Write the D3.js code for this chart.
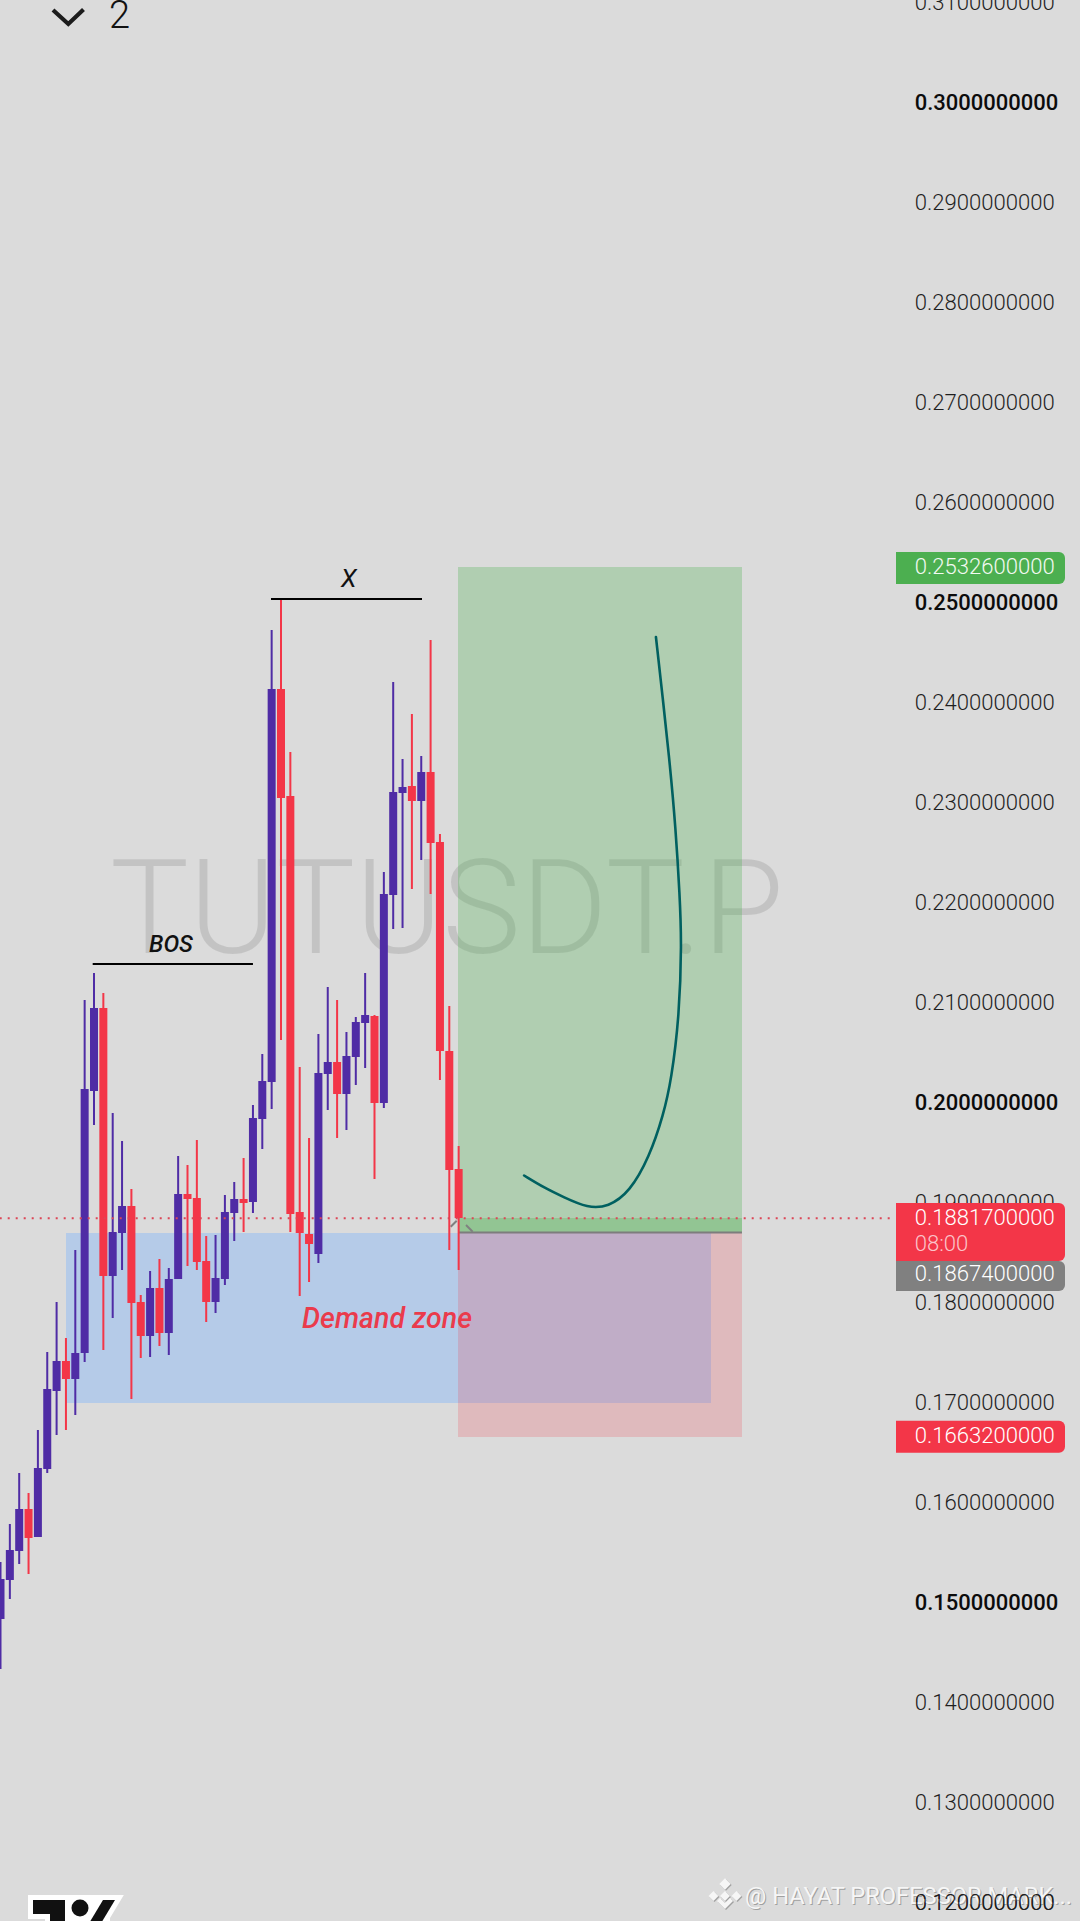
<!DOCTYPE html>
<html><head><meta charset="utf-8">
<script src="https://cdn.jsdelivr.net/npm/d3@7/dist/d3.min.js"></script>
<style>html,body{margin:0;padding:0;background:#dbdbdb;overflow:hidden}svg{display:block}text{font-family:Roboto,sans-serif}</style>
</head><body><div id="c"></div>
<script>
const opens=[.1481,.1520,.1549,.1591,.1563,.1631,.1709,.1739,.1721,.1747,.2009,.2092,.1824,.1867,.1894,.1798,.1764,.1812,.1767,.1821,.1906,.1902,.1839,.1798,.1821,.1887,.1901,.1898,.1981,.2018,.2411,.2304,.1888,.1866,.1846,.2026,.2038,.2006,.2043,.2077,.2084,.1997,.2205,.2307,.2314,.2299,.2328,.2258,.2049,.1931];
const closes=[.1521,.1550,.1591,.1562,.1632,.1711,.1739,.1721,.1747,.2011,.2092,.1824,.1868,.1894,.1797,.1764,.1812,.1767,.1821,.1906,.1901,.1838,.1798,.1822,.1888,.1901,.1897,.1982,.2019,.2411,.2302,.1886,.1867,.1856,.2027,.2038,.2006,.2044,.2078,.2085,.1997,.2206,.2308,.2313,.2299,.2328,.2257,.2049,.1930,.1882];
const highs=[.1538,.1576,.1627,.1607,.1670,.1748,.1798,.1762,.1850,.2100,.2127,.2107,.1987,.1959,.1911,.1805,.1829,.1841,.1832,.1944,.1935,.1960,.1864,.1865,.1905,.1918,.1942,.1995,.2046,.2470,.2501,.2348,.2033,.1962,.2066,.2113,.2100,.2068,.2083,.2127,.2085,.2228,.2418,.2341,.2386,.2344,.2460,.2266,.2094,.1954];
const lows=[.1431,.1501,.1536,.1526,.1563,.1627,.1665,.1670,.1685,.1738,.1975,.1750,.1782,.1830,.1701,.1742,.1743,.1754,.1745,.1821,.1834,.1830,.1778,.1787,.1815,.1859,.1868,.1887,.1951,.1991,.2060,.1868,.1804,.1818,.1837,.1990,.1962,.1970,.2015,.2032,.1921,.1992,.2171,.2172,.2211,.2240,.2206,.2020,.1850,.1830];
const tickValues=[.31,.30,.29,.28,.27,.26,.25,.24,.23,.22,.21,.20,.19,.18,.17,.16,.15,.14,.13,.12];
const boldTicks=[.30,.25,.20,.15];
const targetPrice=.25326, lastPrice=.18817, entryPrice=.18674, stopPrice=.16632;
const countdown="08:00";
const demandTop=.1867, demandBottom=.16973, demandFrom=7, demandTo=76.04;
const posFrom=48.93, posTo=79.3;
const bosLevel=.2136, bosFrom=9.86, bosTo=27;
const xLevel=.2501, xFrom=28.93, xTo=45.08;
const curveBars=[70.1,70.9,71.6,72.2,72.65,72.85,72.6,71.75,70.9,69.4,67.3,65,62.8,60.2,58.2,56];
const curvePrices=[.2463,.2396,.2335,.2273,.2204,.2157,.2084,.2020,.1985,.1943,.1908,.1893,.1892,.1903,.1912,.19245];

const W=1080,H=1921;
const UP="#4f2ca5",DOWN="#f33648";
const x=d3.scaleLinear().domain([0,100]).range([0.5,935.5]);
const y=d3.scaleLinear().domain([.30,.12]).range([100,1900]);
const svg=d3.select("#c").append("svg").attr("width",W).attr("height",H);
svg.append("rect").attr("width",W).attr("height",H).attr("fill","#dbdbdb");

// symbol watermark
svg.append("text").attr("x",110).attr("y",953).attr("font-size",132).attr("font-weight",300)
  .attr("fill","rgba(0,0,0,.105)").attr("textLength",674).attr("lengthAdjust","spacingAndGlyphs").text("TUTUSDT.P");

// zones
const rr=(x0,x1,p0,p1,fill,op)=>svg.append("rect").attr("x",x(x0)).attr("width",x(x1)-x(x0))
  .attr("y",y(p0)).attr("height",y(p1)-y(p0)).attr("fill",fill).attr("fill-opacity",op).attr("shape-rendering","crispEdges");
rr(demandFrom,demandTo,demandTop,demandBottom,"#b5cbe8",1);
rr(posFrom,posTo,targetPrice,entryPrice,"rgb(76,175,80)",.3);
rr(posFrom,posTo,entryPrice,stopPrice,"rgb(242,54,69)",.2);
rr(posFrom,posTo,lastPrice,entryPrice,"rgb(76,175,80)",.3);
svg.append("line").attr("x1",x(posFrom)).attr("x2",x(posTo)).attr("y1",y(entryPrice)).attr("y2",y(entryPrice))
  .attr("stroke","#7d7d7d").attr("stroke-width",2);
// small position arrows
[[450.7,1226.7,456.7,1220.7],[466,1225,472.7,1231.7]].forEach(a=>svg.append("line").attr("x1",a[0]).attr("y1",a[1]).attr("x2",a[2]).attr("y2",a[3]).attr("stroke","#808080").attr("stroke-width",2));

// candles
const data=opens.map((o,i)=>({i,o,c:closes[i],h:highs[i],l:lows[i]}));
const g=svg.append("g");
g.selectAll(".w").data(data).join("rect").attr("x",d=>x(d.i)-1).attr("width",2)
  .attr("y",d=>y(d.h)).attr("height",d=>y(d.l)-y(d.h)).attr("fill",d=>d.c>=d.o?UP:DOWN);
g.selectAll(".b").data(data).join("rect").attr("x",d=>x(d.i)-4).attr("width",8)
  .attr("y",d=>y(Math.max(d.o,d.c))).attr("height",d=>y(Math.min(d.o,d.c))-y(Math.max(d.o,d.c))).attr("fill",d=>d.c>=d.o?UP:DOWN);

// last price line
svg.append("line").attr("x1",-0.3).attr("x2",890).attr("y1",y(lastPrice)).attr("y2",y(lastPrice))
  .attr("stroke","#dc4656").attr("stroke-width",2).attr("stroke-dasharray","2 6");

// annotations
const hl=(a,b,p)=>svg.append("line").attr("x1",x(a)).attr("x2",x(b)).attr("y1",y(p)).attr("y2",y(p)).attr("stroke","#000").attr("stroke-width",2);
hl(bosFrom,bosTo,bosLevel); hl(xFrom,xTo,xLevel);
svg.append("text").attr("x",149).attr("y",952).attr("font-size",23.5).attr("font-style","italic").attr("font-weight",500).attr("fill","#111").text("BOS");
svg.append("text").attr("x",341).attr("y",587).attr("font-size",25.5).attr("font-style","italic").attr("font-weight",400).attr("fill","#111").text("X");
svg.append("text").attr("x",302).attr("y",1328).attr("font-size",28.5).attr("font-style","italic").attr("font-weight",500).attr("fill","#ea3b4c").attr("textLength",170).text("Demand zone");
svg.append("path").attr("d",d3.line().x(d=>x(d)).y((d,i)=>y(curvePrices[i])).curve(d3.curveBasis)(curveBars))
  .attr("fill","none").attr("stroke","#006060").attr("stroke-width",2.6).attr("stroke-linecap","round");

// axis labels
const fmt=v=>v.toFixed(10);
const isBold=v=>boldTicks.some(b=>Math.abs(b-v)<1e-9);
svg.selectAll(".t").data(tickValues).join("text").attr("x",914.7).attr("y",d=>y(d)+10)
  .attr("font-size",d=>isBold(d)?22:22.1)
  .attr("font-weight",d=>isBold(d)?500:300).attr("fill",d=>isBold(d)?"#0c0c0c":"#1f1f1f").text(fmt);

// price tags
const tag=(y0,y1,fill)=>svg.append("path").attr("d",`M896,${y0}H1059a6,6 0 0 1 6,6V${y1-6}a6,6 0 0 1 -6,6H896Z`).attr("fill",fill);
const tagText=(t,b,fill)=>svg.append("text").attr("x",914.7).attr("y",b).attr("font-size",22.1).attr("font-weight",300).attr("fill",fill).text(t);
tag(y(targetPrice)-15.5,y(targetPrice)+16.5,"#4caf50"); tagText(fmt(targetPrice),574,"#f2f9f2");
tag(1203,1261,"#f33648"); tagText(fmt(lastPrice),1225,"#fff"); tagText(countdown,1251,"#fbc4ca");
tag(1261,1291,"#808080"); tagText(fmt(entryPrice),1281,"#fff");
tag(y(stopPrice)-16,y(stopPrice)+16,"#f33648"); tagText(fmt(stopPrice),1443.3,"#fff");

// top chevron + pane count
svg.append("path").attr("d","M53,10L68.3,24L83.5,9.5").attr("fill","none").attr("stroke","#1c1c1c").attr("stroke-width",4.2);
svg.append("text").attr("x",109).attr("y",28).attr("font-size",38).attr("font-weight",300).attr("fill","#111").text("2");

// logo
const logo=svg.append("g");
const logoPaths=["M33,1900H65V1925H50V1914H33Z","M103,1900H115L100,1925H88Z"];
logoPaths.forEach(d=>logo.append("path").attr("d",d).attr("fill","#fff").attr("stroke","#fff").attr("stroke-width",10).attr("stroke-linejoin","miter"));
logo.append("rect").attr("x",65).attr("y",1895).attr("width",45).attr("height",30).attr("fill","#fff");
logoPaths.forEach(d=>logo.append("path").attr("d",d).attr("fill","#111"));
logo.append("circle").attr("cx",80).attr("cy",1908).attr("r",8.5).attr("fill","#111");

// feed attribution
const attr=(dx,dy,f)=>{
  const a=svg.append("g").attr("transform",`translate(${dx},${dy})`).attr("fill",f);
  a.append("text").attr("x",745).attr("y",1904).attr("font-size",23).attr("font-weight",400).attr("textLength",327).attr("lengthAdjust","spacingAndGlyphs").text("@ HAYAT PROFESSOR MARK...");
  [[725,1884,4],[713.5,1896,3.5],[736.5,1896,3.5],[725,1896,3.5]].forEach(p=>a.append("rect").attr("x",p[0]-p[2]).attr("y",p[1]-p[2]).attr("width",p[2]*2).attr("height",p[2]*2).attr("transform",`rotate(45 ${p[0]} ${p[1]})`));
  a.append("path").attr("d","M725,1909l-8,-8l3,-3l5,5l5,-5l3,3Z");
};
attr(1,1,"#a0a0a0"); attr(0,0,"#f6f6f6");
svg.selectAll(".t2").data([.12]).join("text").attr("x",914.7).attr("y",d=>y(d)+10).attr("font-size",22.1).attr("font-weight",300).attr("fill","#1f1f1f").text(fmt);
</script></body></html>
